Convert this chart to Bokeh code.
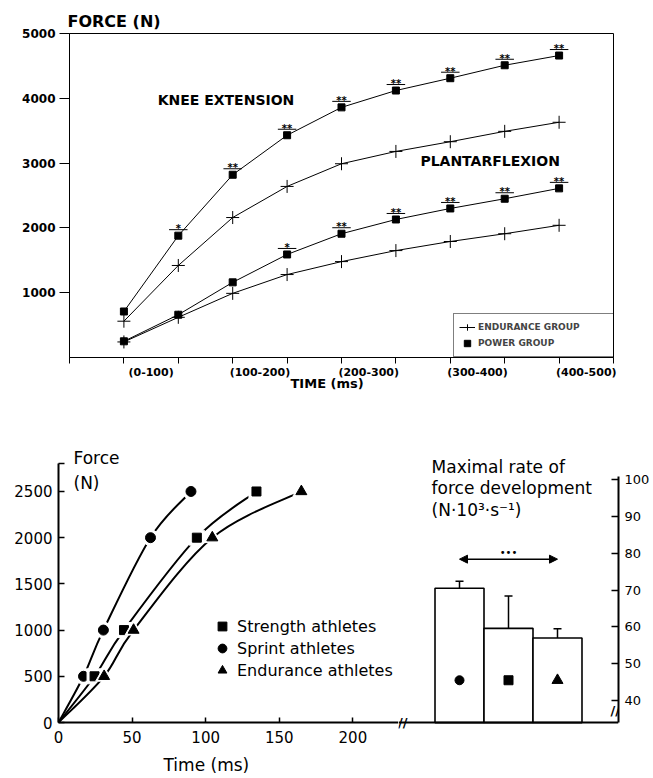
from bokeh.plotting import figure
from bokeh.layouts import column, row
from bokeh.models import FixedTicker, Label, Legend, LegendItem, Arrow, NormalHead, Title
from bokeh.core.properties import value
from bokeh.embed import file_html
from bokeh.resources import INLINE

# ---------------- top chart data ----------------
interval_labels = ["(0-100)", "(100-200)", "(200-300)", "(300-400)", "(400-500)"]
points = list(range(9))
knee_power = [710, 1880, 2820, 3430, 3860, 4120, 4310, 4510, 4660]
knee_endur = [560, 1420, 2160, 2640, 2990, 3180, 3330, 3490, 3630]
plant_power = [250, 660, 1160, 1590, 1910, 2130, 2300, 2450, 2610]
plant_endur = [240, 620, 990, 1280, 1480, 1650, 1790, 1910, 2040]
knee_sig = ["", "*", "**", "**", "**", "**", "**", "**", "**"]
plant_sig = ["", "", "", "*", "**", "**", "**", "**", "**"]
top_yticks = [1000, 2000, 3000, 4000, 5000]

# ---------------- bottom chart data ----------------
force_levels = [0, 500, 1000, 2000, 2500]
sprint_t = [0, 17, 30.5, 62.5, 90]
strength_t = [0, 24.5, 44.5, 94, 134.5]
endur_t = [0, 31, 51, 104.5, 165]
bot_xticks = [0, 50, 100, 150, 200]
bot_yticks = [0, 500, 1000, 1500, 2000, 2500]
bar_pos = [1, 2, 3]
bar_vals = [70.5, 59.6, 57.0]
bar_err = [72.4, 68.4, 59.5]
rate_ticks = [40, 50, 60, 70, 80, 90, 100]

FT = "DejaVu Sans"
FB = "DejaVu Sans"

# ================= TOP FIGURE =================
top = figure(frame_width=544, frame_height=324, x_range=(-1, 9), y_range=(0, 5000),
             min_border_left=69, min_border_right=40, min_border_top=33, min_border_bottom=51,
             title="FORCE (N)", output_backend="svg", toolbar_location=None)
top.title.align = "left"
top.title.offset = -2
top.title.standoff = 6
top.title.text_font = FT
top.title.text_font_size = "16px"
top.title.text_font_style = "bold"
top.title.text_color = "black"
top.grid.visible = False
top.outline_line_color = "black"
top.outline_line_width = 1

label_pos = [p + 0.5 for p in points[::2]]
xa = top.xaxis[0]
xa.ticker = FixedTicker(ticks=label_pos, minor_ticks=list(range(-1, 10)))
xa.major_label_overrides = dict(zip(label_pos, interval_labels))
xa.major_tick_line_color = None
xa.minor_tick_in = 0
xa.minor_tick_out = 6
xa.minor_tick_line_color = "black"
xa.major_label_text_font = FT
xa.major_label_text_font_style = "bold"
xa.major_label_text_font_size = "11px"
xa.major_label_text_color = "black"
xa.major_label_standoff = 2
xa.axis_line_color = "black"

top.add_layout(Title(text="TIME (ms)", align="left", offset=221, standoff=-16, text_font=FT,
                     text_font_size="13px", text_font_style="bold", text_color="black"), "below")

ya = top.yaxis[0]
ya.ticker = FixedTicker(ticks=top_yticks)
ya.minor_tick_line_color = None
ya.major_tick_in = 0
ya.major_tick_out = 10
ya.major_label_text_font = FT
ya.major_label_text_font_style = "bold"
ya.major_label_text_font_size = "12px"
ya.major_label_text_color = "black"
ya.major_label_standoff = 4
ya.axis_line_color = "black"

rend = {}
for name, vals in [("ke", knee_endur), ("pe", plant_endur)]:
    l = top.line(points, vals, line_color="black", line_width=1)
    s = top.scatter(points, vals, marker="cross", size=13, line_color="black", line_width=1)
    rend[name] = (l, s)
for name, vals in [("kp", knee_power), ("pp", plant_power)]:
    l = top.line(points, vals, line_color="black", line_width=1)
    s = top.scatter(points, vals, marker="square", size=7, fill_color="black", line_color="black")
    rend[name] = (l, s)

px_top = 5000 / 324
for vals, sig in [(knee_power, knee_sig), (plant_power, plant_sig)]:
    xs = [p for p, s in zip(points, sig) if s]
    ys = [v for v, s in zip(vals, sig) if s]
    ss = [s for s in sig if s]
    top.text(xs, ys, text=ss, text_align="center", text_baseline="alphabetic", y_offset=-7,
             text_font=value(FT), text_font_size="10px", text_font_style="bold", text_color="black")
    top.segment(x0=[x - 0.17 for x in xs], y0=[y + 6 * px_top for y in ys],
                x1=[x + 0.17 for x in xs], y1=[y + 6 * px_top for y in ys],
                line_color="black", line_width=1)

leg_top = Legend(items=[LegendItem(label="ENDURANCE GROUP", renderers=[rend["ke"][0], rend["ke"][1]]),
                        LegendItem(label="POWER GROUP", renderers=[rend["kp"][1]])],
                 location=(384, 0), orientation="vertical",
                 glyph_width=16, glyph_height=16, label_height=16, label_width=133,
                 label_standoff=3, spacing=0, padding=5, margin=0,
                 label_text_font=FT, label_text_font_size="9px", label_text_font_style="bold",
                 border_line_color="black", border_line_width=1, background_fill_color="white")
top.add_layout(leg_top)

for x, y, t in [(0.62, 3981, "KNEE EXTENSION"), (5.45, 3025, "PLANTARFLEXION")]:
    top.add_layout(Label(x=x, y=y, text=t, text_font=FT, text_font_size="14px", text_font_style="bold",
                         text_align="left", text_baseline="middle", text_color="black"))

# ================= BOTTOM LEFT FIGURE =================
bl = figure(frame_width=340, frame_height=302, x_range=(0, 231), y_range=(0, 3268),
            min_border_left=58, min_border_right=0, min_border_top=12, min_border_bottom=56,
            title=None, output_backend="svg", toolbar_location=None)
bl.grid.visible = False
bl.outline_line_color = None

bx = bl.xaxis[0]
bx.ticker = FixedTicker(ticks=bot_xticks)
bx.major_tick_in = 5
bx.major_tick_out = 0
bx.major_tick_line_width = 1.5
bx.minor_tick_line_color = None
bx.axis_line_width = 2
bx.major_label_text_font = FB
bx.major_label_text_font_size = "15px"
bx.major_label_text_color = "black"
bx.major_label_standoff = 8

bl.add_layout(Title(text="Time (ms)", align="left", offset=105, standoff=14, text_font=FB,
                    text_font_size="17px", text_font_style="normal", text_color="black"), "below")

by = bl.yaxis[0]
by.ticker = FixedTicker(ticks=bot_yticks + [2800])
by.major_label_overrides = {2800: ""}
by.bounds = (0, 2800)
by.major_tick_in = 6
by.major_tick_out = 0
by.major_tick_line_width = 1.5
by.minor_tick_line_color = None
by.axis_line_width = 2
by.major_label_text_font = FB
by.major_label_text_font_size = "15px"
by.major_label_text_color = "black"
by.major_label_standoff = 6


def catmull(xs, ys):
    X = [xs[0]] + list(xs) + [xs[-1]]
    Y = [ys[0]] + list(ys) + [ys[-1]]
    out = {k: [] for k in ["x0", "y0", "x1", "y1", "cx0", "cy0", "cx1", "cy1"]}
    for i in range(len(xs) - 1):
        out["x0"].append(X[i + 1]); out["y0"].append(Y[i + 1])
        out["x1"].append(X[i + 2]); out["y1"].append(Y[i + 2])
        out["cx0"].append(X[i + 1] + (X[i + 2] - X[i]) / 6)
        out["cy0"].append(Y[i + 1] + (Y[i + 2] - Y[i]) / 6)
        out["cx1"].append(X[i + 2] - (X[i + 3] - X[i + 1]) / 6)
        out["cy1"].append(Y[i + 2] - (Y[i + 3] - Y[i + 1]) / 6)
    return out


marks = {}
for t, mk, sz in [(sprint_t, "circle", 10), (strength_t, "square", 9), (endur_t, "triangle", 11)]:
    bl.bezier(**catmull(t, force_levels), line_color="black", line_width=2)
    bl.scatter(t[1:], force_levels[1:], marker=mk, size=sz + 6, fill_color="white", line_color="white")
    marks[mk] = bl.scatter(t[1:], force_levels[1:], marker=mk, size=sz, fill_color="black", line_color="black")

leg_bot = Legend(items=[LegendItem(label="Strength athletes", renderers=[marks["square"]]),
                        LegendItem(label="Sprint athletes", renderers=[marks["circle"]]),
                        LegendItem(label="Endurance athletes", renderers=[marks["triangle"]])],
                 location=(153, 41), glyph_width=22, glyph_height=22, label_height=22,
                 label_standoff=4, spacing=0, padding=0, margin=0,
                 label_text_font=FB, label_text_font_size="16px", label_text_color="black",
                 border_line_color=None, background_fill_alpha=0)
bl.add_layout(leg_bot)

for x, y, t in [(10.2, 2857, "Force"), (10.2, 2597, "(N)")]:
    bl.add_layout(Label(x=x, y=y, text=t, text_font=FB, text_font_size="17px", text_align="left",
                        text_baseline="middle", text_color="black"))

# ================= BOTTOM RIGHT FIGURE =================
br = figure(frame_width=220, frame_height=310, x_range=(-0.245, 4.245), y_range=(31.85, 116.07),
            y_axis_location="right",
            min_border_left=0, min_border_right=35, min_border_top=12, min_border_bottom=48,
            title=None, output_backend="svg", toolbar_location=None)
br.grid.visible = False
br.outline_line_color = None

rx = br.xaxis[0]
rx.ticker = FixedTicker(ticks=[])
rx.fixed_location = 34
rx.major_tick_line_color = None
rx.minor_tick_line_color = None
rx.axis_line_width = 2

ry = br.yaxis[0]
ry.ticker = FixedTicker(ticks=rate_ticks)
ry.bounds = (34, 100.8)
ry.major_tick_in = 7
ry.major_tick_out = 0
ry.major_tick_line_width = 1.5
ry.minor_tick_line_color = None
ry.axis_line_width = 2
ry.major_label_text_font = FB
ry.major_label_text_font_size = "13px"
ry.major_label_text_color = "black"
ry.major_label_standoff = 6

br.vbar(x=bar_pos, width=1, bottom=34, top=bar_vals, fill_color="white", line_color="black", line_width=1.6)
br.segment(x0=bar_pos, y0=bar_vals, x1=bar_pos, y1=bar_err, line_color="black", line_width=1.5)
br.scatter(bar_pos, bar_err, marker="dash", size=8, line_color="black", line_width=1.5)
br.scatter(bar_pos, [45.5] * 3, marker=["circle", "square", "triangle"], size=[9, 9, 11],
           fill_color="black", line_color="black")

br.add_layout(Arrow(x_start=bar_pos[0], y_start=78.4, x_end=bar_pos[-1], y_end=78.4, line_width=1.5,
                    start=NormalHead(size=8, fill_color="black", line_color="black"),
                    end=NormalHead(size=8, fill_color="black", line_color="black")))
br.add_layout(Label(x=2, y=80.3, text="•••", text_font=FB, text_font_size="10px", text_align="center",
                    text_baseline="middle", text_color="black"))

for y, t in [(103.5, "Maximal rate of"), (97.6, "force development"), (91.8, "(N·10³·s⁻¹)")]:
    br.add_layout(Label(x=0.43, y=y, text=t, text_font=FB, text_font_size="17px", text_align="left",
                        text_baseline="middle", text_color="black"))

for x, y in [(-0.16, 34), (4.18, 37.3)]:
    br.add_layout(Label(x=x, y=y, text="//", text_font=FB, text_font_size="13px", text_font_style="bold",
                        text_align="center", text_baseline="middle", text_color="black"))

layout = column(top, row(bl, br))
open("out.html", "w").write(file_html(layout, INLINE))
